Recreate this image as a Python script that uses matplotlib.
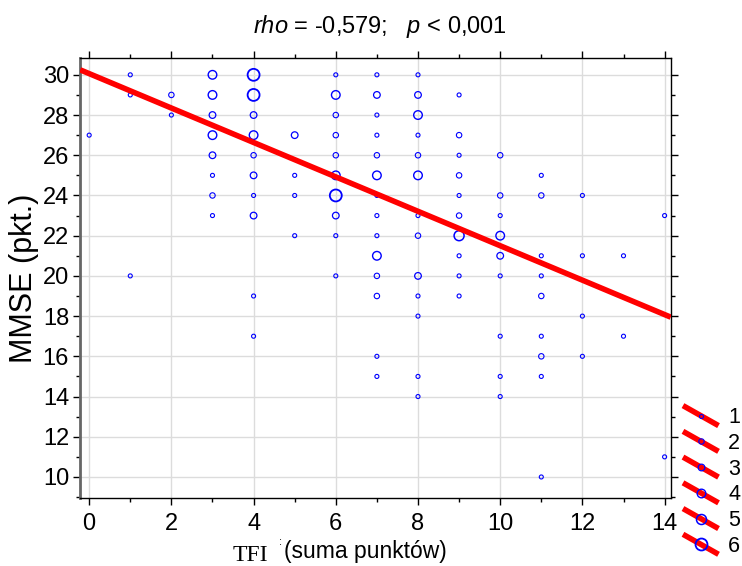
# TFI vs MMSE scatter with regression line
# circle size = how many patients share the same pair of scores

import matplotlib
matplotlib.use('Agg')
import matplotlib.pyplot as plt
from matplotlib.lines import Line2D
from matplotlib.legend_handler import HandlerBase
from matplotlib.ticker import MultipleLocator

plt.rcParams['font.family'] = ['Liberation Sans', 'DejaVu Sans']
plt.rcParams['mathtext.fontset'] = 'custom'
plt.rcParams['mathtext.rm'] = 'Liberation Sans'
plt.rcParams['mathtext.it'] = 'Liberation Sans:italic'

# data, column by column (TFI score)
tfi = [0,
       1, 1, 1,
       2, 2,
       3, 3, 3, 3, 3, 3, 3, 3,
       4, 4, 4, 4, 4, 4, 4, 4, 4, 4,
       5, 5, 5, 5,
       6, 6, 6, 6, 6, 6, 6, 6, 6, 6,
       7, 7, 7, 7, 7, 7, 7, 7, 7, 7, 7, 7, 7, 7,
       8, 8, 8, 8, 8, 8, 8, 8, 8, 8, 8, 8, 8,
       9, 9, 9, 9, 9, 9, 9, 9, 9, 9,
       10, 10, 10, 10, 10, 10, 10, 10, 10,
       11, 11, 11, 11, 11, 11, 11, 11, 11,
       12, 12, 12, 12,
       13, 13,
       14, 14]
mmse = [27,
        30, 29, 20,
        29, 28,
        30, 29, 28, 27, 26, 25, 24, 23,
        30, 29, 28, 27, 26, 25, 24, 23, 19, 17,
        27, 25, 24, 22,
        30, 29, 28, 27, 26, 25, 24, 23, 22, 20,
        30, 29, 28, 27, 26, 25, 24, 23, 22, 21, 20, 19, 16, 15,
        30, 29, 28, 27, 26, 25, 23, 22, 20, 19, 18, 15, 14,
        29, 27, 26, 25, 24, 23, 22, 21, 20, 19,
        26, 24, 23, 22, 21, 20, 17, 15, 14,
        25, 24, 21, 20, 19, 17, 16, 15, 10,
        24, 21, 18, 16,
        21, 17,
        23, 11]
count = [1,
         1, 1, 1,
         2, 1,
         4, 4, 3, 4, 3, 1, 2, 1,
         6, 6, 3, 4, 2, 3, 1, 3, 1, 1,
         3, 1, 1, 1,
         1, 4, 2, 2, 2, 4, 6, 3, 1, 1,
         1, 3, 1, 1, 2, 4, 1, 1, 1, 4, 2, 2, 1, 1,
         1, 3, 4, 1, 2, 4, 1, 2, 3, 1, 1, 1, 1,
         1, 2, 1, 2, 1, 2, 5, 1, 1, 1,
         2, 2, 1, 4, 3, 1, 1, 1, 1,
         1, 2, 1, 1, 2, 1, 2, 1, 1,
         1, 1, 1, 1,
         1, 1,
         1, 1]

# regression line as drawn on the chart
fitIntercept = 30.06
fitSlope = -0.856

sizeClasses = [1, 2, 3, 4, 5, 6]
markerSizes = [2.9, 3.9, 4.8, 6.2, 7.2, 8.6]
markerWidths = [0.8, 0.8, 0.9, 1.0, 1.1, 1.3]

fig = plt.figure(figsize=(7.42, 5.66), dpi=100)
ax = fig.add_axes([0.108, 0.12, 0.796, 0.778])

xMin, xMax = -0.22, 14.15
ax.set_xlim(xMin, xMax)
ax.set_ylim(8.95, 30.85)

# scatter, one call per size class
handles = []
for cls, ms, lw in zip(sizeClasses, markerSizes, markerWidths):
    xs = [x for x, c in zip(tfi, count) if c == cls]
    ys = [y for y, c in zip(mmse, count) if c == cls]
    ax.scatter(xs, ys, s=ms ** 2, facecolors='none', edgecolors='#0000ff',
               linewidths=lw, zorder=3)
    handles.append(Line2D([], [], marker='o', markersize=ms, markerfacecolor='none',
                          markeredgecolor='#0000ff', markeredgewidth=lw, color='red'))

# regression line over the whole x range
ax.plot([xMin, xMax], [fitIntercept + fitSlope * xMin, fitIntercept + fitSlope * xMax],
        color='#ff0000', lw=4, solid_capstyle='butt', zorder=4)

# ticks and grid
ax.xaxis.set_major_locator(MultipleLocator(2))
ax.xaxis.set_minor_locator(MultipleLocator(1))
ax.yaxis.set_major_locator(MultipleLocator(2))
ax.yaxis.set_minor_locator(MultipleLocator(1))
ax.grid(True, which='major', color='#dcdcdc', lw=1.0, zorder=0)
ax.set_axisbelow(True)
ax.tick_params(which='both', direction='out', top=True, right=True, labelsize=17, colors='black')
ax.tick_params(which='major', length=5, width=1)
ax.tick_params(which='minor', length=3, width=1)
ax.tick_params(axis='x', pad=6)
ax.tick_params(axis='y', pad=3)
for side in ['top', 'right', 'bottom']:
    ax.spines[side].set_color('black')
    ax.spines[side].set_linewidth(1.0)
ax.spines['left'].set_color('#666666')
ax.spines['left'].set_linewidth(2.0)

ax.set_ylabel('MMSE (pkt.)', fontsize=22)
ax.yaxis.set_label_coords(-0.07, 0.5)

# title and x label
fig.text(380 / 742, 1 - 26 / 566, r'$\mathit{rho}$ = -0,579;   $\mathit{p}$ < 0,001',
         ha='center', va='center', fontsize=17)
fig.text(250 / 742, 1 - 561 / 566, 'TFI', ha='center', va='baseline', fontsize=17,
         family=['Liberation Serif', 'DejaVu Serif'])
fig.text(280 / 742, 1 - 542 / 566, ':', ha='center', va='center', fontsize=8)
fig.text(284 / 742, 1 - 558 / 566, '(suma punktów)', ha='left', va='baseline', fontsize=16.5)


# legend key: slanted red bar with the circle on it
class SlashHandler(HandlerBase):
    def create_artists(self, legend, handle, xdescent, ydescent, width, height, fontsize, trans):
        x0 = -xdescent
        yc = -ydescent + height / 2
        bar = Line2D([x0, x0 + width], [yc + 7.2, yc - 7.2], color='#ff0000', lw=4,
                     solid_capstyle='butt', transform=trans)
        dot = Line2D([x0 + width / 2], [yc], marker='o', markersize=handle.get_markersize(),
                     markerfacecolor='none', markeredgecolor='#0000ff',
                     markeredgewidth=handle.get_markeredgewidth(), transform=trans)
        return [bar, dot]


fig.legend(handles, [str(c) for c in sizeClasses], handler_map={Line2D: SlashHandler()},
           loc='center left', bbox_to_anchor=(683 / 742, 1 - 482 / 566), frameon=False,
           fontsize=15.5, handlelength=1.65, handletextpad=0.45, labelspacing=0.22,
           borderpad=0, borderaxespad=0)

fig.savefig('out.png', dpi=100)
